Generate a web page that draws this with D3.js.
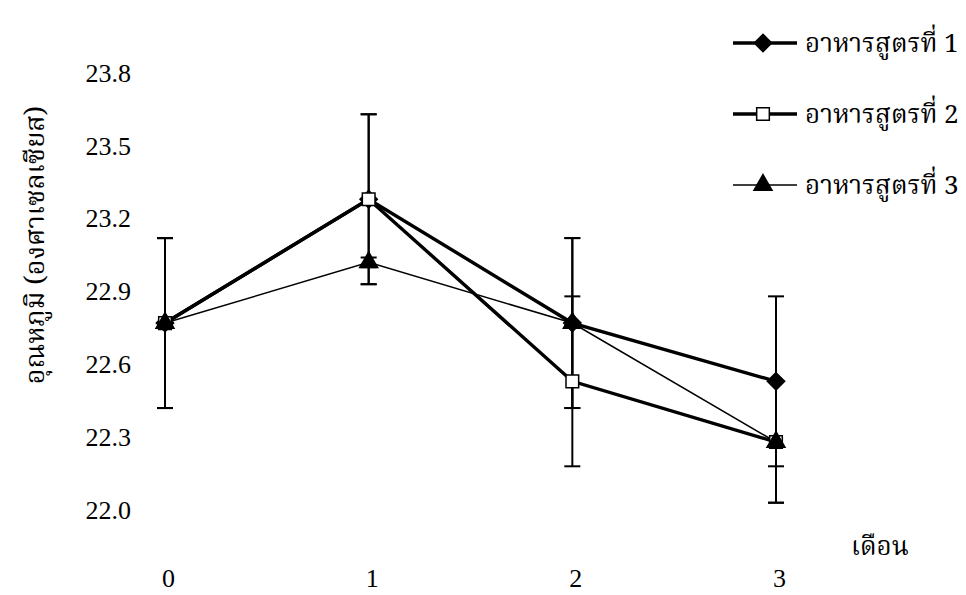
<!DOCTYPE html>
<html>
<head>
<meta charset="utf-8">
<script src="https://cdn.jsdelivr.net/npm/d3@7"></script>
<style>
  body { margin: 0; background: #fff; }
  svg { display: block; }
</style>
</head>
<body>
<div id="chart"></div>
<script>
var width = 966, height = 595;

// data
var months = [0, 1, 2, 3]
var seriesNames = ["อาหารสูตรที่ 1", "อาหารสูตรที่ 2", "อาหารสูตรที่ 3"]
var formula1 = [22.77, 23.28, 22.77, 22.53]
var formula2 = [22.77, 23.28, 22.53, 22.28]
var formula3 = [22.77, 23.02, 22.77, 22.28]
var err1 = [0.35, 0.35, 0.35, 0.35]
var err2 = [0.35, 0.35, 0.35, 0.25]
var err3 = [0.35, 0.02, 0.35, 0.25]
var yTicks = [22.0, 22.3, 22.6, 22.9, 23.2, 23.5, 23.8]

// diamond drawn as a rotated square so it is as wide as it is tall
var diamond = {
    draw: function(context, size){
        var r = Math.sqrt(size / 2)
        context.moveTo(0, -r)
        context.lineTo(r, 0)
        context.lineTo(0, r)
        context.lineTo(-r, 0)
        context.closePath()
    }
}

var series = [
    {name: seriesNames[0], values: formula1, err: err1, symbol: diamond, fill: "#000", lw: 3.4, size: 150},
    {name: seriesNames[1], values: formula2, err: err2, symbol: d3.symbolSquare, fill: "#fff", lw: 3.4, size: 160},
    {name: seriesNames[2], values: formula3, err: err3, symbol: d3.symbolTriangle, fill: "#000", lw: 1.5, size: 140}
]

var numFont = "'Liberation Serif', 'Times New Roman', serif"
var thaiFont = "'Noto Serif Thai', 'Noto Sans Thai', 'Liberation Serif', serif"

var svg = d3.select("#chart").append("svg")
    .attr("width", width)
    .attr("height", height)

//Set scales
var xScale = d3.scaleLinear().domain([0, 3]).range([165, 776])
var yScale = d3.scaleLinear().domain([22.0, 23.8]).range([510, 73])

//Axes (labels only)
var yAxis = svg.append("g")
    .attr("transform", "translate(131,0)")
    .call(d3.axisLeft(yScale).tickValues(yTicks).tickFormat(d3.format(".1f")).tickSize(0).tickPadding(0))
yAxis.select(".domain").remove()
yAxis.selectAll("text")
    .style("font-family", numFont)
    .style("font-size", "26px")
    .attr("fill", "#000")

var xAxis = svg.append("g")
    .attr("transform", "translate(3,569)")
    .call(d3.axisBottom(xScale).tickValues(months).tickFormat(d3.format("d")).tickSize(0).tickPadding(0))
xAxis.select(".domain").remove()
xAxis.selectAll("text")
    .style("font-family", numFont)
    .style("font-size", "26px")
    .attr("fill", "#000")

svg.append("text")
    .attr("transform", "translate(44,245) rotate(-90)")
    .attr("text-anchor", "middle")
    .style("font-family", thaiFont)
    .style("font-size", "27px")
    .text("อุณหภูมิ (องศาเซลเซียส)")

svg.append("text")
    .attr("x", 880)
    .attr("y", 555)
    .attr("text-anchor", "middle")
    .style("font-family", thaiFont)
    .style("font-size", "26px")
    .text("เดือน")

//Error bars
var plot = svg.append("g")
series.forEach(function(s){
    var g = plot.append("g").attr("stroke", "#000").attr("stroke-width", 2)
    months.forEach(function(m, i){
        var x = xScale(m)
        var top = yScale(s.values[i] + s.err[i]), bot = yScale(s.values[i] - s.err[i])
        g.append("line").attr("x1", x).attr("x2", x).attr("y1", top).attr("y2", bot)
        g.append("line").attr("x1", x - 8).attr("x2", x + 8).attr("y1", top).attr("y2", top)
        g.append("line").attr("x1", x - 8).attr("x2", x + 8).attr("y1", bot).attr("y2", bot)
    })
})

//Lines and markers
var line = d3.line()
    .x(function(d, i){ return xScale(months[i]) })
    .y(function(d){ return yScale(d) })

series.forEach(function(s){
    plot.append("path")
        .datum(s.values)
        .attr("fill", "none")
        .attr("stroke", "#000")
        .attr("stroke-width", s.lw)
        .attr("d", line)
})

series.forEach(function(s){
    plot.selectAll(null)
        .data(s.values)
        .enter().append("path")
        .attr("transform", function(d, i){ return "translate(" + xScale(months[i]) + "," + yScale(d) + ")" })
        .attr("d", d3.symbol().type(s.symbol).size(s.size))
        .attr("fill", s.fill)
        .attr("stroke", "#000")
        .attr("stroke-width", 1.5)
})

//Legend
var legendY = [43, 114, 185]
var legend = svg.append("g")
series.forEach(function(s, i){
    var row = legend.append("g").attr("transform", "translate(0," + legendY[i] + ")")
    row.append("line")
        .attr("x1", 733).attr("x2", 797)
        .attr("y1", 0).attr("y2", 0)
        .attr("stroke", "#000")
        .attr("stroke-width", s.lw)
    row.append("path")
        .attr("transform", "translate(763,0)")
        .attr("d", d3.symbol().type(s.symbol).size(s.size))
        .attr("fill", s.fill)
        .attr("stroke", "#000")
        .attr("stroke-width", 1.5)
    row.append("text")
        .attr("x", 805)
        .attr("y", 9)
        .style("font-family", thaiFont)
        .style("font-size", "26px")
        .text(s.name)
})
</script>
</body>
</html>
